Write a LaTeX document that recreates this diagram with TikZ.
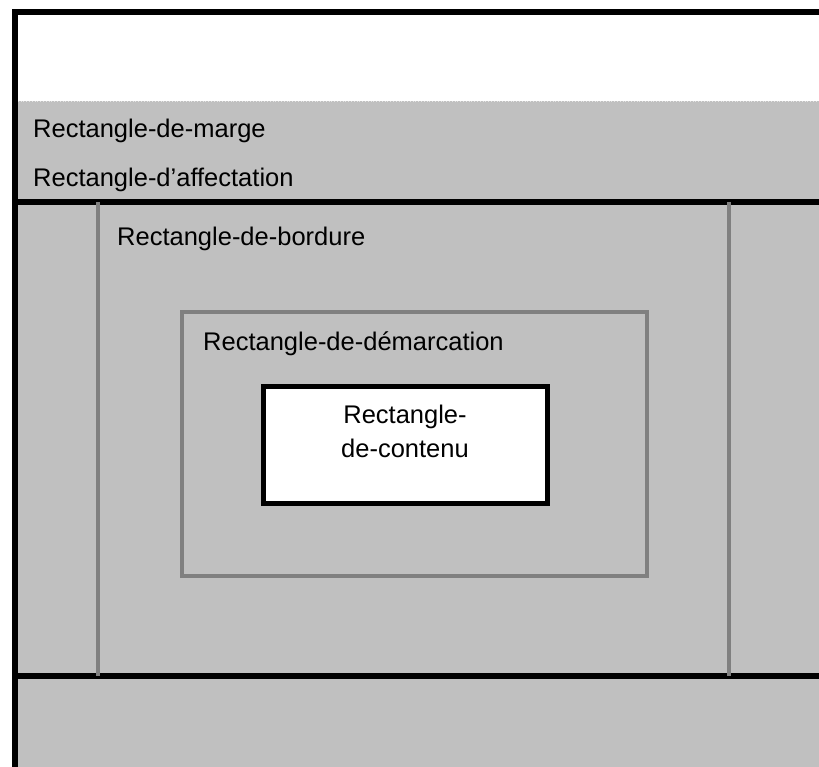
\documentclass[tikz,border=0pt]{standalone}
\usepackage{fontspec}
\setmainfont{Liberation Sans}
\definecolor{gfill}{RGB}{192,192,192}
\definecolor{gline}{RGB}{128,128,128}
\begin{document}
\begin{tikzpicture}[x=1pt,y=-1pt,
  bline/.style={line width=5.5pt,black},
  gbord/.style={line width=4pt,gline},
  lbl/.style={anchor=base west,inner sep=0pt,font=\fontsize{25.5}{30}\selectfont},
  clbl/.style={anchor=base,inner sep=0pt,font=\fontsize{25.5}{30}\selectfont},
  contentbox/.style={draw=black,line width=5pt,fill=white,minimum width=284pt,minimum height=117pt,inner sep=0pt}]
\useasboundingbox (0,0) rectangle (819,767);
\fill[white] (0,0) rectangle (819,767);
\fill[gfill] (15,101) rectangle (819,767);
\draw[white!80!gray,dotted,line width=0.8pt] (15,101) -- (819,101);
% outer frame
\draw[bline] (15,767) -- (15,12) -- (819,12);
\draw[bline] (15,202) -- (819,202);
\draw[bline] (15,676) -- (819,676);
% border rectangle sides
\draw[gbord] (98,202) -- (98,676);
\draw[gbord] (729,202) -- (729,676);
% demarcation rectangle
\draw[gbord] (182,312) rectangle (647,576);
% content rectangle
\node[contentbox] (content) at (405,444.5) {};
\node[clbl] (ctext1) at (405,423) {Rectangle-};
\node[clbl] (ctext2) at (405,457) {de-contenu};
% labels
\node[lbl] (marge) at (33,138) {Rectangle-de-marge};
\node[lbl] (affect) at (33,187) {Rectangle-d’affectation};
\node[lbl] (bord) at (117,246) {Rectangle-de-bordure};
\node[lbl] (demarc) at (203,350) {Rectangle-de-démarcation};
\end{tikzpicture}
\end{document}
